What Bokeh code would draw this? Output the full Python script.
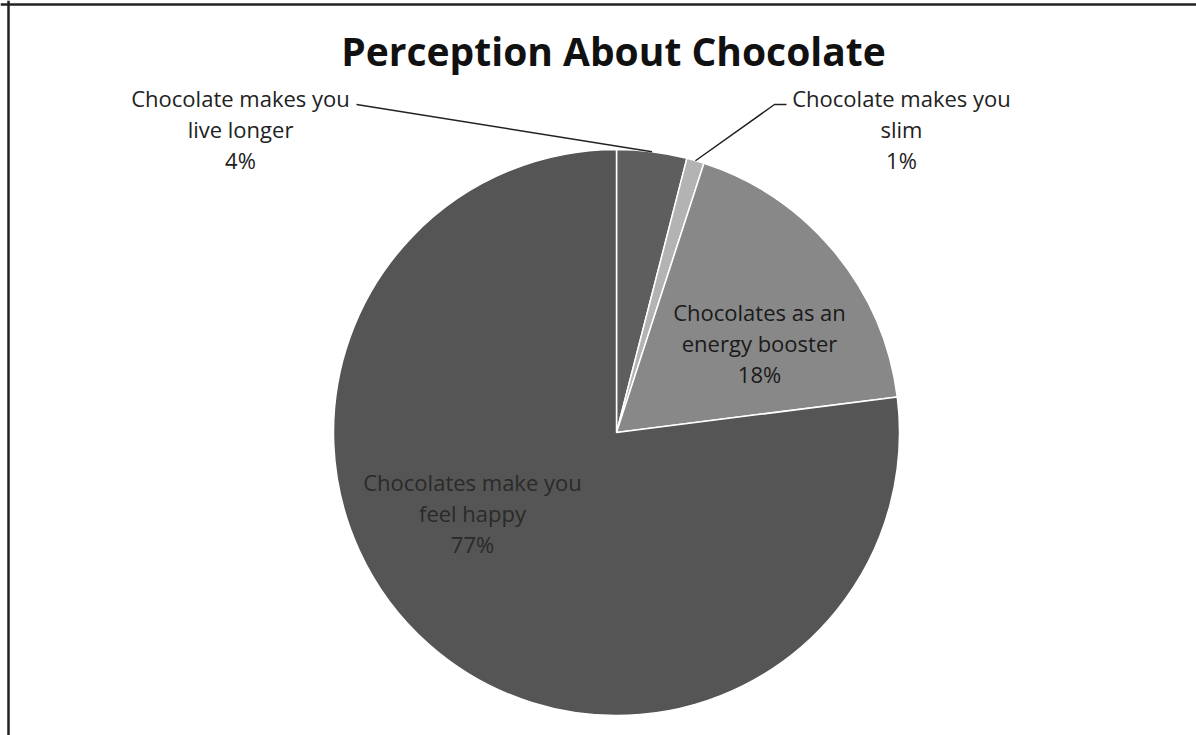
import math
from bokeh.plotting import figure
from bokeh.models import Range1d, Span, ColumnDataSource
from bokeh.core.properties import value
from bokeh.embed import file_html
from bokeh.resources import INLINE

# ---- data ----
categories = ["Chocolate makes you\nlive longer", "Chocolate makes you\nslim",
              "Chocolates as an\nenergy booster", "Chocolates make you\nfeel happy"]
percents = [4, 1, 18, 77]
colors = ["#5e5e5e", "#b3b3b3", "#888888", "#555555"]

W, H = 1196, 735
FONT = "Open Sans"

p = figure(width=W, height=H, output_backend="svg", toolbar_location=None,
           x_range=Range1d(0, W), y_range=Range1d(0, H), min_border=0)
p.axis.visible = False
p.grid.visible = False
p.outline_line_color = None
p.background_fill_color = "white"
p.border_fill_color = "white"

def Y(py):
    return H - py

cx, cy, r = 616, Y(432), 283
total = sum(percents)
starts, ends, mids = [], [], []
acc = 0.0
for v in percents:
    a0 = math.pi / 2 - 2 * math.pi * acc / total
    acc += v
    a1 = math.pi / 2 - 2 * math.pi * acc / total
    starts.append(a0)
    ends.append(a1)
    mids.append((a0 + a1) / 2)

src = ColumnDataSource(dict(start=starts, end=ends, color=colors,
                            x=[cx] * 4, y=[cy] * 4))
p.wedge(x="x", y="y", radius=r, start_angle="start", end_angle="end",
        direction="clock", fill_color="color", line_color="white",
        line_width=1.5, source=src)

# title
p.text(x=[613], y=[Y(50)], text=["Perception About Chocolate"],
       text_font=value(FONT), text_font_style="bold", text_font_size="39px",
       text_align="center", text_baseline="middle", text_color="#111111")

# labels (positions are layout)
label_pos = [(240, 97), (901, 97), (759, 311), (472, 481)]
label_colors = ["#222222", "#222222", "#1a1a1a", "#2a2a2a"]
for cat, pct, (lx, ly), col in zip(categories, percents, label_pos, label_colors):
    lines = cat.split("\n") + [f"{pct}%"]
    p.text(x=[lx] * 3, y=[Y(ly + 31 * i) for i in range(3)], text=lines,
           text_font=value(FONT), text_font_size="22px", text_align="center",
           text_baseline="middle", text_color=col)

# leader lines to slice edges
def edge(i):
    return cx + r * math.cos(mids[i]), cy + r * math.sin(mids[i])

ex0, ey0 = edge(0)
p.line(x=[356, ex0], y=[Y(104), ey0], line_color="#222222", line_width=1.5)
ex1, ey1 = edge(1)
p.line(x=[786, 774, ex1], y=[Y(104), Y(104), ey1], line_color="#222222", line_width=1.5)

# frame border (left and top)
p.add_layout(Span(location=8, dimension="height", line_color="#222222", line_width=2.5))
p.add_layout(Span(location=Y(4), dimension="width", line_color="#222222", line_width=2.5))

open("out.html", "w").write(file_html(p, INLINE))
